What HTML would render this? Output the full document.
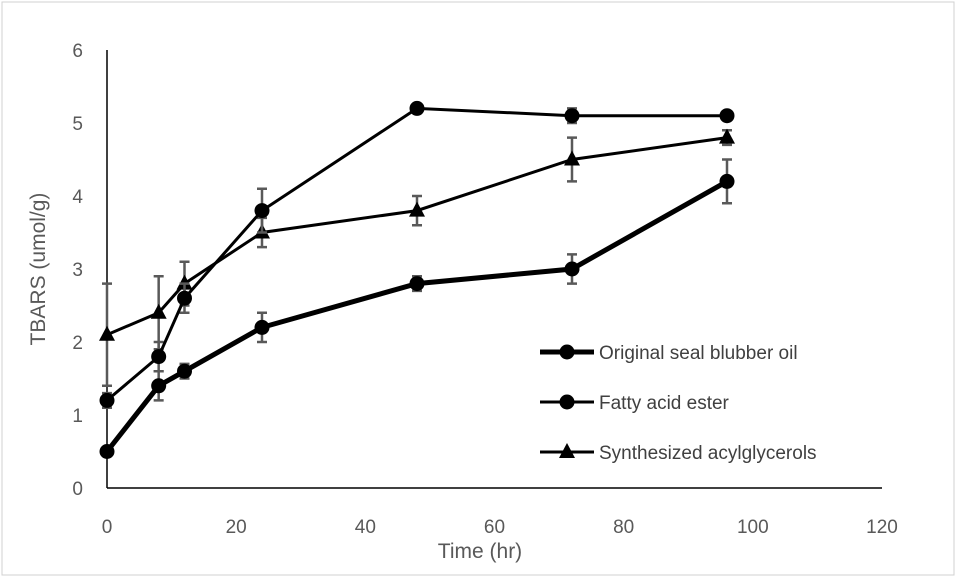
<!DOCTYPE html>
<html><head><meta charset="utf-8"><style>
body{margin:0;background:#fff;}
svg{display:block;font-family:"Liberation Sans",sans-serif;}
</style></head><body>
<svg id="chart" width="957" height="578">
<rect x="2" y="2" width="952" height="573" fill="#fff" stroke="#d0d0d0"/>
<g id="grid"></g><g id="series"></g><g id="legend"></g>
<text x="480" y="558" text-anchor="middle" font-size="21" fill="#595959">Time (hr)</text>
<text transform="translate(45,269) rotate(-90)" text-anchor="middle" font-size="21" fill="#595959">TBARS (umol/g)</text>
</svg>
<script>
const xTicks=[0,20,40,60,80,100,120];
const yTicks=[0,1,2,3,4,5,6];
const times=[0,8,12,24,48,72,96];
const seriesNames=["Original seal blubber oil","Fatty acid ester","Synthesized acylglycerols"];
const oilValues=[0.5,1.4,1.6,2.2,2.8,3.0,4.2];
const oilErr=[0,0.2,0.1,0.2,0.1,0.2,0.3];
const esterValues=[1.2,1.8,2.6,3.8,5.2,5.1,5.1];
const esterErr=[0.1,0.2,0.2,0.3,0.05,0.1,0.05];
const synValues=[2.1,2.4,2.8,3.5,3.8,4.5,4.8];
const synErr=[0.7,0.5,0.3,0.2,0.2,0.3,0.1];
const NS="http://www.w3.org/2000/svg";
const X=v=>107+v*(882-107)/120;
const Y=v=>488-v*(488-50)/6;
function mk(tag,attrs,parent){const e=document.createElementNS(NS,tag);for(const k in attrs)e.setAttribute(k,attrs[k]);parent.appendChild(e);return e;}
const grid=document.getElementById('grid'),ser=document.getElementById('series'),leg=document.getElementById('legend');
xTicks.forEach(t=>{const e=mk('text',{x:X(t),y:533,'text-anchor':'middle','font-size':19,fill:'#595959'},grid);e.textContent=t;

});
yTicks.forEach(t=>{const e=mk('text',{x:83,y:Y(t)+7,'text-anchor':'end','font-size':19,fill:'#595959'},grid);e.textContent=t;

});
const ya=mk('line',{x1:X(0),y1:Y(0),x2:X(0),y2:Y(6),stroke:'#000','stroke-width':1.5},grid);


const xa=mk('line',{x1:X(0),y1:Y(0),x2:X(120),y2:Y(0),stroke:'#000','stroke-width':1.5},grid);


function marker(x,y,shape,parent){
 if(shape==='c')return mk('circle',{cx:x,cy:y,r:7.5,fill:'#000'},parent);
 return mk('polygon',{points:`${x},${y-9} ${x-8},${y+6} ${x+8},${y+6}`,fill:'#000'},parent);
}
function draw(vals,errs,shape,w,name){
 const g=mk('g',{},ser);
 
 
 vals.forEach((v,i)=>{if(!errs[i])return;const x=X(times[i]),a=Y(v+errs[i]),b=Y(v-errs[i]);
  const eb=mk('path',{d:`M${x},${a}V${b}M${x-5},${a}H${x+5}M${x-5},${b}H${x+5}`,stroke:'#595959','stroke-width':2.5,fill:'none'},g);
  
  });
 const ln=mk('polyline',{points:vals.map((v,i)=>X(times[i])+','+Y(v)).join(' '),fill:'none',stroke:'#000','stroke-width':w},g);
 
 
 vals.forEach((v,i)=>{const m=marker(X(times[i]),Y(v),shape,g);
  
  });
}
draw(synValues,synErr,'t',3,'series-synthesized');
draw(esterValues,esterErr,'c',3,'series-ester');
draw(oilValues,oilErr,'c',5,'series-oil');
const shapes=['c','c','t'],ws=[5,3,3];
seriesNames.forEach((n,i)=>{const y=352+i*50;const g=mk('g',{},leg);
 
 
 mk('line',{x1:540,y1:y,x2:594,y2:y,stroke:'#000','stroke-width':ws[i]},g);
 marker(567,y,shapes[i],g);
 const t=mk('text',{x:599,y:y+7,'font-size':19,fill:'#404040'},g);t.textContent=n;});
</script>
</body></html>
